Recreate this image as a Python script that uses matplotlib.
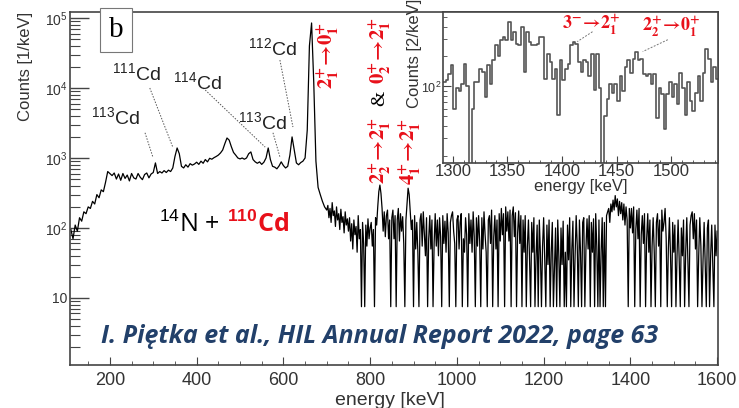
import numpy as np
import matplotlib
matplotlib.use("Agg")
import matplotlib.pyplot as plt
from matplotlib.ticker import FixedLocator, FixedFormatter, LogLocator, MultipleLocator, NullFormatter

plt.rcParams['font.family'] = ['Liberation Sans', 'DejaVu Sans']
plt.rcParams['mathtext.fontset'] = 'custom'
plt.rcParams['mathtext.rm'] = 'Liberation Sans'
plt.rcParams['mathtext.it'] = 'Liberation Sans:italic'
plt.rcParams['mathtext.bf'] = 'Liberation Sans:bold'

# main spectrum, part 1: 5 keV bins, 110 .. 700 keV
low_start, low_step = 110, 5
low_counts = [
    95, 70, 110, 90, 140, 125, 170, 160, 200, 190,
    240, 220, 300, 270, 350, 330, 450, 640, 600, 560,
    610, 500, 590, 480, 600, 510, 570, 470, 600, 520,
    500, 600, 530, 490, 580, 610, 520, 590, 620, 850,
    600, 640, 610, 660, 620, 670, 640, 720, 1050, 1390,
    1150, 760, 720, 800, 740, 830, 790, 820, 870, 810,
    900, 840, 950, 880, 990, 960, 1010, 1050, 1100, 1180,
    1300, 1600, 1930, 1800, 1450, 1200, 1100, 1000, 970, 1000,
    960, 1000, 1150, 1220, 950, 880, 840, 880, 810, 870,
    1000, 1390, 950, 760, 740, 700, 770, 880, 780, 720,
    760, 1100, 2000, 1300, 850, 800, 860, 900, 1000, 2500,
    40000, 85000, 12000, 900, 380, 300, 240, 200, 180,
]
# main spectrum, part 2: 2.5 keV bins, 702.5 .. 1600 keV
high_start, high_step = 702.5, 2.5
high_counts = [
    210, 140, 190, 120, 230, 150, 175, 105, 200, 130, 160, 95, 185, 120, 145, 85, 170, 110, 135, 90,
    140, 65, 115, 50, 130, 80, 105, 45, 150, 70, 95, 7.5, 120, 60, 7.5, 110, 55, 135, 70, 100,
    120, 55, 95, 7.5, 140, 110, 200, 330, 410, 310, 190, 90, 170, 75, 150, 180, 70, 130, 7.5, 140,
    180, 70, 150, 7.5, 130, 190, 65, 160, 90, 145, 60, 7.5, 130, 220, 370, 300, 170, 95, 130, 7.5,
    150, 50, 120, 45, 7.5, 130, 160, 55, 170, 80, 40, 140, 7.5, 70, 150, 50, 130, 7.5, 60, 160,
    55, 130, 40, 140, 75, 7.5, 150, 60, 125, 45, 160, 85, 7.5, 120, 150, 170, 90, 60, 7.5, 130,
    150, 50, 120, 160, 7.5, 70, 45, 140, 80, 7.5, 160, 60, 130, 45, 170, 75, 7.5, 140, 55, 150,
    65, 7.5, 140, 50, 170, 80, 45, 7.5, 130, 150, 60, 180, 7.5, 75, 150, 50, 130, 7.5, 160, 65,
    190, 80, 160, 7.5, 200, 90, 170, 65, 180, 7.5, 150, 200, 75, 165, 7.5, 85, 175, 60, 150, 7.5,
    130, 45, 150, 7.5, 55, 130, 35, 7.5, 120, 45, 140, 7.5, 40, 110, 7.5, 130, 45, 7.5, 55, 140,
    35, 7.5, 110, 30, 130, 7.5, 45, 120, 7.5, 28, 100, 7.5, 130, 40, 7.5, 100, 30, 125, 7.5, 45,
    7.5, 110, 35, 140, 7.5, 50, 125, 7.5, 40, 150, 55, 7.5, 130, 45, 7.5, 120, 140, 7.5, 50, 135,
    50, 150, 7.5, 120, 45, 135, 7.5, 160, 55, 7.5, 130, 7.5, 45, 140, 7.5, 120, 7.5, 150, 170, 190,
    120, 220, 170, 250, 180, 290, 200, 260, 150, 240, 160, 230, 130, 220, 110, 200, 130, 7.5, 190, 100,
    190, 85, 200, 7.5, 95, 180, 70, 190, 7.5, 80, 150, 60, 160, 7.5, 70, 160, 45, 130, 7.5, 55,
    140, 45, 7.5, 120, 160, 55, 130, 7.5, 180, 90, 120, 190, 70, 7.5, 50, 140, 40, 7.5, 120, 45,
    110, 7.5, 40, 130, 35, 7.5, 100, 40, 130, 7.5, 45, 140, 35, 7.5, 110, 150, 170, 70, 160, 50,
    130, 7.5, 40, 140, 55, 7.5, 35, 120, 30, 7.5, 100, 130, 7.5, 40, 110, 30, 7.5, 110, 40, 90,
]
spec_energy = np.concatenate([low_start + low_step * np.arange(len(low_counts)),
                              high_start + high_step * np.arange(len(high_counts))])
spec_counts = np.array(low_counts + high_counts, dtype=float)

# inset histogram (zoom 1290-1545 keV)
ins_start = 1291
ins_step = 2.38
ins_counts = [
    112, 117, 132, 166, 59, 96, 89, 105, 170, 100,
    0, 60, 112, 112, 150, 141, 79, 166, 105, 186,
    263, 200, 295, 316, 295, 447, 295, 355, 269, 263,
    398, 141, 355, 282, 263, 263, 269, 316, 316, 120,
    214, 178, 120, 151, 52, 186, 117, 148, 170, 263,
    282, 269, 178, 141, 186, 178, 126, 214, 93, 214,
    96, 0, 50, 74, 107, 85, 107, 71, 126, 89,
    158, 186, 135, 190, 224, 186, 190, 132, 126, 132,
    105, 132, 48, 96, 83, 37, 83, 112, 79, 107,
    66, 135, 96, 52, 112, 71, 56, 85, 126, 71,
    135, 240, 190, 112, 158, 120,
]
ins_edges = ins_start + ins_step * np.arange(len(ins_counts) + 1)

main_yticks = [10, 100, 1000, 10000, 100000]
main_ylabels = ['10', '$10^2$', '$10^3$', '$10^4$', '$10^5$']
main_xticks = [200, 400, 600, 800, 1000, 1200, 1400, 1600]
ins_xticks = [1300, 1350, 1400, 1450, 1500]

isotopes = [
    # label, text pos (E, counts), leader start, leader end
    ('$^{113}$Cd', (214, 3850), (281, 2290), (299, 1035)),
    ('$^{111}$Cd', (262, 16300), (292, 10000), (345, 1430)),
    ('$^{114}$Cd', (403, 12200), (415, 10000), (558, 1430)),
    ('$^{113}$Cd', (553, 3270), (576, 2290), (592, 1035)),
    ('$^{112}$Cd', (574, 37300), (592, 25100), (622, 2770)),
]

FRAME = '#444444'
RED = '#e8101a'

fig = plt.figure(figsize=(7.39, 4.08), dpi=100)
ax = fig.add_axes([0.0947, 0.1054, 0.8769, 0.8652])
ax.plot(spec_energy, spec_counts, color='k', lw=0.9)
ax.set_yscale('log')
ax.set_xlim(108, 1602)
ax.set_ylim(1.1, 1.22e5)

ax.yaxis.set_major_locator(FixedLocator(main_yticks))
ax.yaxis.set_major_formatter(FixedFormatter(main_ylabels))
ax.yaxis.set_minor_locator(LogLocator(base=10, subs=np.arange(2, 10)))
ax.yaxis.set_minor_formatter(NullFormatter())
ax.xaxis.set_major_locator(FixedLocator(main_xticks))
ax.xaxis.set_minor_locator(MultipleLocator(50))
ax.tick_params(axis='y', which='major', direction='in', length=14, width=1, labelsize=10, pad=2, colors=FRAME, labelcolor='#333333')
ax.tick_params(axis='y', which='minor', direction='in', length=7, width=0.8, colors=FRAME)
ax.tick_params(axis='x', which='major', direction='in', length=6, labelsize=13, pad=5, colors=FRAME, labelcolor='#333333')
ax.tick_params(axis='x', which='minor', direction='in', length=3, colors=FRAME)
for s in ax.spines.values():
    s.set_color(FRAME)
    s.set_linewidth(1.2)

fig.text(0.528, 0.008, 'energy [keV]', fontsize=14, color='#333333', ha='center', va='baseline')
fig.text(0.034, 0.972, 'Counts [1/keV]', fontsize=12, color='#333333', rotation=90, ha='center', va='top')

# panel tag
ax.text(214, 67500, 'b', fontsize=21, family='Liberation Serif', ha='center', va='center',
        bbox=dict(boxstyle='square,pad=0.3', fc='white', ec='#777777', lw=0.8))

for lab, tpos, p0, p1 in isotopes:
    ax.text(tpos[0], tpos[1], lab, fontsize=14, color='#222222', ha='center', va='center')
    ax.plot([p0[0], p1[0]], [p0[1], p1[1]], color='#555555', lw=0.7, ls=(0, (1.5, 1.5)))

red_kw = dict(color=RED, fontsize=15, rotation=90, ha='center', va='center', math_fontfamily='stix')
ax.text(703, 29600, r'$\mathbf{2^{+}_{1}\!\rightarrow\!0^{+}_{1}}$', **red_kw)
ax.text(823, 34900, r'$\mathbf{0^{+}_{2}\!\rightarrow\!2^{+}_{1}}$', **red_kw)
ax.text(823, 1300, r'$\mathbf{2^{+}_{2}\!\rightarrow\!2^{+}_{1}}$', **red_kw)
ax.text(892, 1220, r'$\mathbf{4^{+}_{1}\!\rightarrow\!2^{+}_{1}}$', **red_kw)
ax.text(823, 7200, '&', color='k', fontsize=14, rotation=90, ha='center', va='center', family='Liberation Serif')

ax.text(456, 110, '$^{14}$N + ', fontsize=18, family='Open Sans', color='k', ha='right', va='center')
ax.text(470, 110, r'$^{\mathbf{110}}$Cd', fontsize=18, family='Open Sans', weight='bold', color=RED, ha='left', va='center')

ax.text(822, 2.77, 'I. Piętka et al., HIL Annual Report 2022, page 63', fontsize=18, family='Open Sans',
        weight='bold', style='italic', color='#22406a', ha='center', va='center')

# inset
axin = fig.add_axes([0.5995, 0.6005, 0.3721, 0.3701])
axin.step(ins_edges, list(ins_counts) + [ins_counts[-1]], where='post', color='#555555', lw=1.2)
axin.set_yscale('log', nonpositive='clip')
axin.set_xlim(1291, 1543)
axin.set_ylim(17, 560)
axin.yaxis.set_major_locator(FixedLocator([100]))
axin.yaxis.set_major_formatter(FixedFormatter(['$10^2$']))
axin.yaxis.set_minor_locator(LogLocator(base=10, subs=np.arange(2, 10)))
axin.yaxis.set_minor_formatter(NullFormatter())
axin.xaxis.set_major_locator(FixedLocator(ins_xticks))
axin.xaxis.set_minor_locator(MultipleLocator(10))
axin.tick_params(axis='y', which='major', direction='in', length=6, labelsize=9, pad=1, colors=FRAME, labelcolor='#333333')
axin.tick_params(axis='y', which='minor', direction='in', length=3, colors=FRAME)
axin.tick_params(axis='x', which='major', direction='in', length=5, labelsize=12, pad=1, colors=FRAME, labelcolor='#333333')
axin.tick_params(axis='x', which='minor', direction='in', length=2.5, colors=FRAME)
for s in axin.spines.values():
    s.set_color(FRAME)
    s.set_linewidth(1.2)
axin.set_xlabel('energy [keV]', fontsize=12, color='#333333', labelpad=0)
fig.text(414 / 739, 1 - 108 / 408, 'Counts [2/keV]', fontsize=12, color='#333333', rotation=90, ha='center', va='bottom')

ins_red = dict(color=RED, fontsize=13, ha='center', va='center', math_fontfamily='stix')
axin.text(1427, 417, r'$\mathbf{3^{-}\!\rightarrow\! 2^{+}_{1}}$', **ins_red)
axin.text(1500, 400, r'$\mathbf{2^{+}_{2}\!\rightarrow\! 0^{+}_{1}}$', **ins_red)
axin.plot([1428, 1414], [355, 282], color='#777777', lw=0.7, ls=(0, (2, 1.5)))
axin.plot([1497, 1474], [295, 224], color='#777777', lw=0.7, ls=(0, (2, 1.5)))

fig.savefig('out.png', dpi=100)
